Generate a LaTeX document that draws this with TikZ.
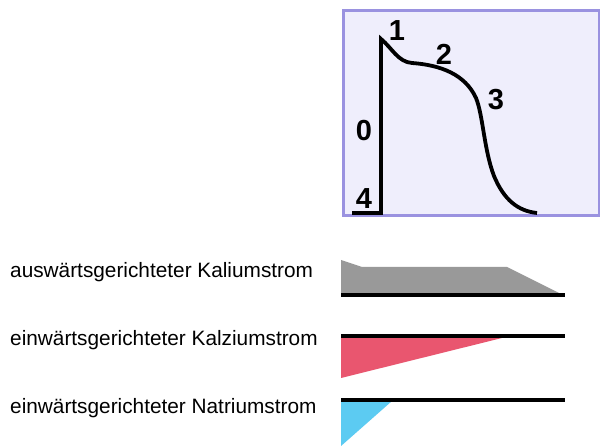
\documentclass[tikz,border=0pt]{standalone}
\usepackage{fontspec}
\setmainfont{Liberation Sans}
\definecolor{boxfill}{HTML}{EFEEFC}
\definecolor{boxline}{HTML}{9A92E0}
\definecolor{kgray}{HTML}{999999}
\definecolor{cared}{HTML}{E9566F}
\definecolor{nablue}{HTML}{5CCBF2}
\begin{document}
\begin{tikzpicture}[x=1pt,y=-1pt,
  phase/.style={font=\bfseries\fontsize{29}{29}\selectfont,inner sep=0pt},
  label/.style={font=\fontsize{20.8}{22}\selectfont,anchor=west,inner sep=0pt},
  baseline/.style={line width=4.5pt,black}]
\useasboundingbox (0,0) rectangle (600,446);
\fill[white] (0,0) rectangle (600,446);
% AP box
\draw[boxline,fill=boxfill,line width=3pt] (343,11) rectangle (599,216);
% action potential curve
\draw[line width=3.8pt,line join=miter] (352,213) -- (381,213) -- (381,39)
  .. controls (392,48) and (398,62) .. (412,63)
  .. controls (440,65) and (465,74) .. (476,98)
  .. controls (483,115) and (484,150) .. (494,176)
  .. controls (504,200) and (518,211) .. (537,213);
\node[phase] (p1) at (397,31) {1};
\node[phase] (p2) at (444,54) {2};
\node[phase] (p3) at (496,100) {3};
\node[phase] (p0) at (364,131) {0};
\node[phase] (p4) at (364,199) {4};
% currents
\node[label] (tk) at (10,272) {auswärtsgerichteter Kaliumstrom};
\node[label] (tca) at (10,340) {einwärtsgerichteter Kalziumstrom};
\node[label] (tna) at (10,408) {einwärtsgerichteter Natriumstrom};
\fill[kgray] (341,260) -- (362,267) -- (507,267) -- (561,294) -- (341,294) -- cycle;
\draw[baseline] (341,295) -- (565,295);
\fill[cared] (341,337) -- (506,337) -- (341,378) -- cycle;
\draw[baseline] (341,336) -- (565,336);
\fill[nablue] (341,401) -- (392,401) -- (341,446) -- cycle;
\draw[baseline] (341,400) -- (565,400);
\end{tikzpicture}
\end{document}
